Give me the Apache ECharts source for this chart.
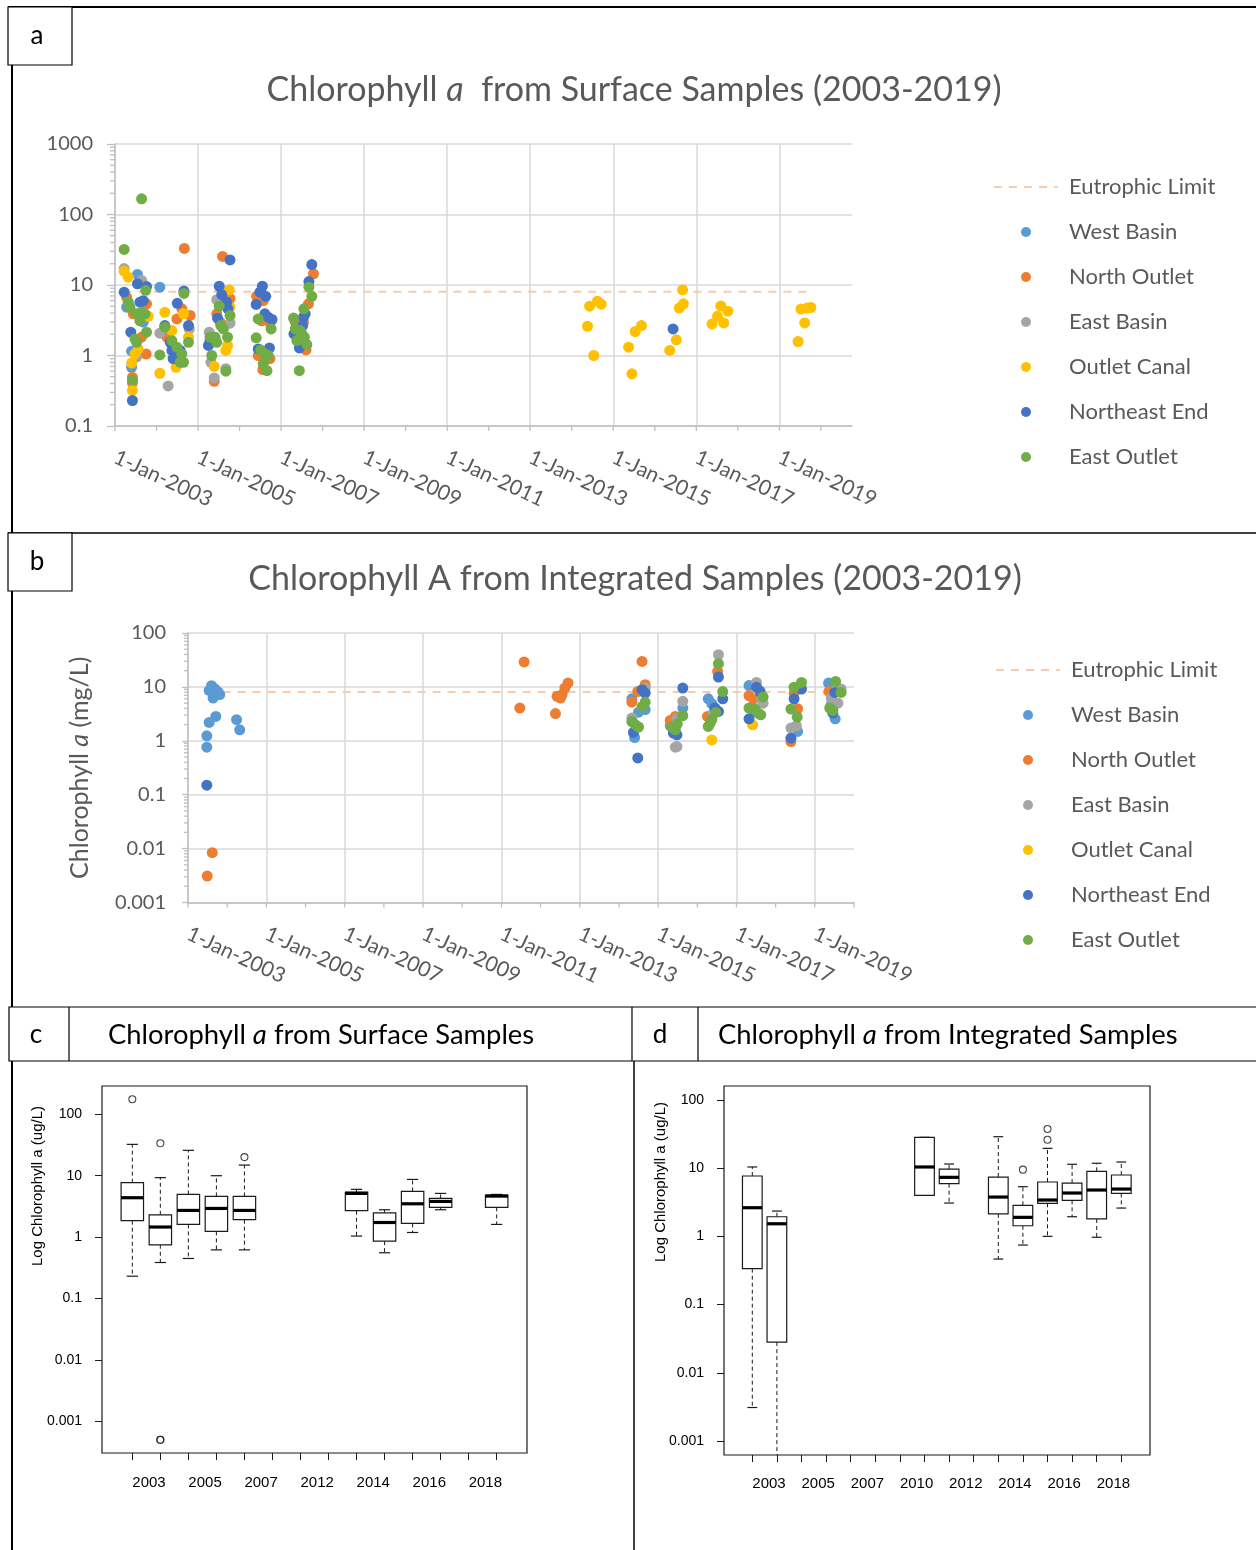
<!DOCTYPE html>
<html>
<head>
<meta charset="utf-8">
<title>Chlorophyll a – Surface and Integrated Samples</title>
<script src="https://cdn.jsdelivr.net/npm/echarts@6/dist/echarts.min.js"></script>
<style>
  html, body { margin: 0; padding: 0; background: #fff; }
  #chart { width: 1256px; height: 1550px; }
</style>
</head>
<body>
<div id="chart"></div>
<script>
// ---------------------------------------------------------------------------
// Sampling sites and their colours
// ---------------------------------------------------------------------------
const siteNames = ['West Basin', 'North Outlet', 'East Basin', 'Outlet Canal', 'Northeast End', 'East Outlet'];
const siteColors = ['#5B9BD5', '#ED7D31', '#A5A5A5', '#FFC000', '#4472C4', '#70AD47'];
const limitName = 'Eutrophic Limit';
const eutrophicLimit = 8;               // chlorophyll a threshold
const surfaceLimitSpan = [2003.2, 2019.8];
const integratedLimitSpan = [2003.5, 2019.7];

// ---------------------------------------------------------------------------
// Surface samples: [decimal year, chlorophyll a]
// ---------------------------------------------------------------------------
const surfaceWestBasin = [
  [2003.54, 14.1], [2003.28, 4.85], [2003.68, 2.97], [2003.40, 1.15], [2003.40, 0.68], [2004.08, 9.3]
];
const surfaceNorthOutlet = [
  [2003.28, 6.7], [2003.76, 5.4], [2003.44, 3.9], [2003.64, 1.82], [2003.75, 1.05], [2003.42, 0.41], [2003.42, 0.49],
  [2004.25, 1.82], [2004.61, 4.6], [2004.49, 3.3], [2004.81, 3.7], [2004.67, 33],
  [2005.59, 25.4], [2005.77, 6.4], [2005.45, 3.9], [2005.53, 2.97], [2005.39, 0.43],
  [2006.41, 6.9], [2006.57, 6.0], [2006.53, 3.1], [2006.73, 2.87], [2006.45, 1.0], [2006.73, 0.9], [2006.56, 0.63],
  [2007.78, 14.4], [2007.66, 5.4], [2007.34, 2.97], [2007.46, 2.97], [2007.54, 2.97], [2007.60, 1.2]
];
const surfaceEastBasin = [
  [2003.22, 17.1], [2003.64, 11.6], [2003.52, 0.95],
  [2004.08, 2.07], [2004.28, 0.37], [2004.79, 2.38],
  [2005.45, 6.2], [2005.77, 2.87], [2005.27, 2.14], [2005.31, 0.8], [2005.39, 0.48], [2005.67, 0.65]
];
const surfaceOutletCanal = [
  [2003.22, 15.7], [2003.32, 12.9], [2003.80, 3.6], [2003.56, 1.24], [2003.48, 1.05], [2003.40, 0.78], [2003.42, 0.32],
  [2004.20, 4.1], [2004.08, 0.56], [2004.47, 0.68], [2004.37, 2.26], [2004.65, 3.9], [2004.77, 1.82],
  [2005.75, 8.5], [2005.77, 4.85], [2005.39, 0.70], [2005.67, 1.18], [2005.71, 1.39],
  [2014.43, 5.0], [2014.62, 5.9], [2014.71, 5.35], [2014.38, 2.6], [2014.53, 1.0],
  [2015.37, 1.31], [2015.53, 2.19], [2015.68, 2.66], [2015.45, 0.55],
  [2016.36, 1.18], [2016.52, 1.67], [2016.59, 4.7], [2016.69, 5.4], [2016.67, 8.5],
  [2017.38, 2.8], [2017.51, 3.6], [2017.59, 5.05], [2017.66, 2.9], [2017.76, 4.25],
  [2019.45, 1.58], [2019.61, 2.9], [2019.52, 4.55], [2019.67, 4.7], [2019.76, 4.8]
];
const surfaceNortheastEnd = [
  [2003.22, 7.9], [2003.54, 10.4], [2003.76, 9.5], [2003.60, 5.7], [2003.68, 6.0], [2003.38, 2.14], [2003.42, 0.23],
  [2004.20, 2.66], [2004.33, 1.54], [2004.37, 1.18], [2004.40, 0.9], [2004.50, 5.5], [2004.66, 8.2], [2004.77, 2.66], [2004.57, 1.18],
  [2005.77, 22.7], [2005.51, 9.6], [2005.57, 7.3], [2005.69, 5.7], [2005.72, 4.6], [2005.47, 3.38], [2005.29, 1.63], [2005.25, 1.39],
  [2006.55, 9.6], [2006.49, 7.9], [2006.63, 6.9], [2006.40, 5.3], [2006.61, 3.9], [2006.69, 3.5], [2006.78, 3.24], [2006.45, 1.24], [2006.72, 1.28],
  [2007.74, 19.5], [2007.67, 11.2], [2007.58, 3.9], [2007.54, 3.5], [2007.31, 2.03], [2007.52, 2.66], [2007.44, 1.28],
  [2016.44, 2.38]
];
const surfaceEastOutlet = [
  [2003.64, 167], [2003.22, 31.9], [2003.74, 8.4], [2003.32, 5.7], [2003.36, 4.85], [2003.53, 3.9], [2003.64, 4.1], [2003.72, 3.9],
  [2003.60, 3.1], [2003.76, 2.14], [2003.48, 1.72], [2003.52, 1.54], [2003.42, 0.45],
  [2004.20, 2.52], [2004.08, 1.02], [2004.37, 1.63], [2004.49, 1.31], [2004.61, 1.05], [2004.57, 0.8], [2004.66, 7.6], [2004.77, 1.54], [2004.65, 0.8],
  [2005.51, 5.0], [2005.77, 3.7], [2005.55, 2.66], [2005.61, 2.38], [2005.71, 1.82], [2005.29, 1.82], [2005.41, 1.82], [2005.45, 1.54], [2005.33, 1.0], [2005.67, 0.6],
  [2006.45, 3.3], [2006.76, 2.38], [2006.40, 1.78], [2006.51, 1.2], [2006.61, 1.05], [2006.69, 1.0], [2006.57, 0.76], [2006.66, 0.61],
  [2007.67, 9.3], [2007.74, 6.9], [2007.55, 4.6], [2007.30, 3.4], [2007.34, 2.38], [2007.46, 2.26], [2007.50, 2.03], [2007.38, 1.63],
  [2007.56, 1.82], [2007.62, 1.43], [2007.44, 0.61]
];

// ---------------------------------------------------------------------------
// Integrated samples: [decimal year, chlorophyll a]
// ---------------------------------------------------------------------------
const integratedWestBasin = [
  [2003.60, 10.5], [2003.54, 8.6], [2003.69, 9.1], [2003.77, 8.0], [2003.81, 7.2], [2003.64, 6.2], [2003.71, 2.83], [2003.54, 2.19],
  [2003.48, 1.24], [2003.48, 0.76], [2004.24, 2.46], [2004.32, 1.6],
  [2014.33, 6.0], [2014.67, 3.8], [2014.50, 3.4], [2014.40, 1.15],
  [2015.63, 4.05], [2015.31, 1.9],
  [2016.28, 6.0], [2016.37, 4.9],
  [2017.32, 10.6], [2017.47, 3.5],
  [2018.56, 1.49],
  [2019.35, 11.8], [2019.42, 4.67], [2019.52, 2.56]
];
const integratedNorthOutlet = [
  [2003.62, 0.0084], [2003.49, 0.0031],
  [2011.58, 29], [2011.47, 4.05],
  [2012.38, 3.2], [2012.42, 6.7], [2012.51, 6.2], [2012.55, 7.2], [2012.62, 9.5], [2012.70, 11.8],
  [2014.59, 29.7], [2014.67, 11], [2014.48, 8.2], [2014.33, 5.2],
  [2015.44, 2.83], [2015.31, 2.38],
  [2016.52, 19.4], [2016.26, 2.83],
  [2017.32, 6.9], [2017.43, 5.95],
  [2018.47, 7.7], [2018.56, 3.93], [2018.39, 0.97],
  [2019.36, 8.25]
];
const integratedEastBasin = [
  [2014.67, 9.5], [2014.33, 2.64],
  [2015.63, 5.4], [2015.48, 2.56], [2015.44, 0.76], [2015.48, 0.78],
  [2016.54, 39.5], [2016.41, 3.27],
  [2017.51, 12.1], [2017.64, 5.8], [2017.68, 5.0],
  [2018.39, 1.72], [2018.53, 1.9],
  [2019.67, 9.1], [2019.42, 6.2], [2019.59, 5.0]
];
const integratedOutletCanal = [[2016.37, 1.04], [2017.41, 1.98]];
const integratedNortheastEnd = [
  [2003.48, 0.15],
  [2014.59, 8.9], [2014.67, 7.7], [2014.37, 1.43], [2014.48, 0.48],
  [2015.63, 9.5], [2015.39, 1.39], [2015.48, 1.29],
  [2016.54, 15.2], [2016.65, 6.0], [2016.45, 4.05], [2016.54, 3.5],
  [2017.51, 9.9], [2017.60, 8.3], [2017.32, 2.56],
  [2018.66, 9.1], [2018.47, 6.0], [2018.39, 1.12],
  [2019.51, 7.9], [2019.46, 3.27]
];
const integratedEastOutlet = [
  [2014.67, 5.2], [2014.59, 4.3], [2014.33, 2.28], [2014.42, 1.98], [2014.50, 1.8],
  [2015.63, 2.92], [2015.49, 2.07], [2015.35, 1.8], [2015.44, 1.6],
  [2016.54, 27], [2016.65, 8.2], [2016.47, 3.36], [2016.37, 2.46], [2016.33, 2.13], [2016.28, 1.85],
  [2017.68, 6.5], [2017.32, 4.05], [2017.47, 3.9], [2017.55, 3.27], [2017.62, 3.04],
  [2018.47, 9.9], [2018.66, 12.1], [2018.39, 3.88], [2018.55, 2.76],
  [2019.53, 12.6], [2019.67, 7.9], [2019.38, 4.05], [2019.46, 3.66]
];

// ---------------------------------------------------------------------------
// Box-plot summaries: [year, lower whisker, Q1, median, Q3, upper whisker]
// ---------------------------------------------------------------------------
const surfaceYears = ['2003', '2004', '2005', '2006', '2007', '2011', '2012', '2013', '2014', '2015', '2016', '2017', '2018', '2019'];
const surfaceBoxes = [
  ['2003', 0.231, 1.85, 4.38, 7.7, 32.4],
  ['2004', 0.386, 0.75, 1.46, 2.31, 9.3],
  ['2005', 0.449, 1.61, 2.72, 4.96, 25.9],
  ['2006', 0.62, 1.24, 2.93, 4.6, 10],
  ['2007', 0.62, 1.92, 2.72, 4.6, 14.9],
  ['2014', 1.04, 2.69, 5.15, 5.42, 6.0],
  ['2015', 0.556, 0.86, 1.73, 2.49, 2.79],
  ['2016', 1.19, 1.67, 3.49, 5.55, 8.7],
  ['2017', 2.79, 3.05, 3.81, 4.27, 5.15],
  ['2019', 1.61, 3.05, 4.66, 4.83, 4.96]
];
const surfaceOutliers = [['2003', 176], ['2004', 33.7], ['2004', 0.0005], ['2004', 0.0005], ['2007', 20.1]];

const integratedYears = ['2003', '2004', '2005', '2006', '2007', '2008', '2010', '2011', '2012', '2013', '2014', '2015', '2016', '2017', '2018', '2019'];
const integratedBoxes = [
  ['2003', 0.0031, 0.336, 2.63, 7.67, 10.4],
  ['2004', 0, 0.0282, 1.53, 1.94, 2.35],
  ['2011', 3.99, 3.99, 10.4, 28.3, 28.3],
  ['2012', 3.08, 5.92, 7.33, 9.7, 11.5],
  ['2014', 0.465, 2.13, 3.77, 7.41, 28.9],
  ['2015', 0.746, 1.43, 1.90, 2.85, 5.35],
  ['2016', 1.0, 3.05, 3.41, 6.26, 19.5],
  ['2017', 1.94, 3.37, 4.32, 6.05, 11.4],
  ['2018', 0.97, 1.80, 4.78, 8.97, 11.8],
  ['2019', 2.60, 4.27, 4.94, 7.93, 12.3]
];
const integratedOutliers = [['2015', 9.5], ['2016', 26.1], ['2016', 37.5]];

// Axis tick values
const logTickValues = [0.001, 0.01, 0.1, 1, 10, 100];
const sampleYears = [2003, 2004, 2005, 2006, 2007, 2008, 2009, 2010, 2011, 2012, 2013, 2014, 2015, 2016, 2017, 2018, 2019, 2020];

// ---------------------------------------------------------------------------
// Styling helpers
// ---------------------------------------------------------------------------
const FONT = 'Lato, "Noto Sans", sans-serif';
const R_FONT = '"Liberation Sans", Arial, sans-serif';
const GREY_TEXT = '#595959';
const AXIS_GREY = '#BFBFBF';
const GRID_GREY = '#D9D9D9';

const surfaceSets = [surfaceWestBasin, surfaceNorthOutlet, surfaceEastBasin, surfaceOutletCanal, surfaceNortheastEnd, surfaceEastOutlet];
const integratedSets = [integratedWestBasin, integratedNorthOutlet, integratedEastBasin, integratedOutletCanal, integratedNortheastEnd, integratedEastOutlet];

function minorLogValues(fromExp, toExp) {
  const out = [];
  for (let e = fromExp; e < toExp; e++) {
    for (let m = 2; m <= 9; m++) out.push(+(m * Math.pow(10, e)).toPrecision(6));
  }
  return out;
}

function scatterSeries(sets, axis) {
  return siteNames.map((name, i) => ({
    name, type: 'scatter', xAxisIndex: axis, yAxisIndex: axis,
    symbol: 'circle', symbolSize: 11, silent: true, z: 3,
    itemStyle: { color: siteColors[i], opacity: 1 },
    data: sets[i]
  }));
}

function limitSeries(span, axis) {
  return {
    name: limitName, type: 'line', xAxisIndex: axis, yAxisIndex: axis,
    symbol: 'none', silent: true, z: 2,
    itemStyle: { color: '#F8CBAD' },
    lineStyle: { color: '#F8CBAD', width: 2, type: [8, 7] },
    data: span.map(x => [x, eutrophicLimit])
  };
}

// short tick marks placed through the axis scales
function tickSeries(axis, points, dx, dy, color) {
  return {
    type: 'custom', xAxisIndex: axis, yAxisIndex: axis, silent: true, clip: false, z: 1,
    data: points,
    renderItem: (params, api) => {
      const p = api.coord([api.value(0), api.value(1)]);
      return {
        type: 'line',
        shape: { x1: p[0], y1: p[1], x2: p[0] + dx, y2: p[1] + dy },
        style: { stroke: color, lineWidth: 1.3 }
      };
    }
  };
}

// Tukey-style box with dashed whiskers, staples and a heavy median bar
function renderBox(params, api) {
  const cat = api.value(0);
  const vals = [1, 2, 3, 4, 5].map(d => api.value(d));
  const cs = params.coordSys;
  const top = cs.y, bottom = cs.y + cs.height;
  const band = api.size([1, 0])[0];
  const half = band * 0.4;
  const cap = band * 0.2;
  const py = v => (v > 0 ? Math.max(top, Math.min(bottom, api.coord([cat, v])[1])) : bottom);
  const x = api.coord([cat, vals[2]])[0];
  const [yLo, yQ1, yMed, yQ3, yHi] = vals.map(py);
  const ink = '#1A1A1A';
  const dash = { stroke: ink, lineWidth: 1, lineDash: [4, 3] };
  const solid = { stroke: ink, lineWidth: 1.2 };
  const children = [
    { type: 'line', shape: { x1: x, y1: yQ3, x2: x, y2: yHi }, style: dash },
    { type: 'line', shape: { x1: x, y1: yQ1, x2: x, y2: yLo }, style: dash },
    { type: 'line', shape: { x1: x - cap, y1: yHi, x2: x + cap, y2: yHi }, style: solid }
  ];
  if (vals[0] > 0 && yLo < bottom) {
    children.push({ type: 'line', shape: { x1: x - cap, y1: yLo, x2: x + cap, y2: yLo }, style: solid });
  }
  children.push(
    { type: 'rect', shape: { x: x - half, y: yQ3, width: 2 * half, height: yQ1 - yQ3 }, style: { fill: '#fff', stroke: ink, lineWidth: 1.2 } },
    { type: 'line', shape: { x1: x - half, y1: yMed, x2: x + half, y2: yMed }, style: { stroke: '#000', lineWidth: 3.2 } }
  );
  return { type: 'group', children };
}

function boxSeries(axis, rows) {
  return {
    type: 'custom', xAxisIndex: axis, yAxisIndex: axis, silent: true, clip: false, z: 3,
    encode: { x: 0, y: [1, 2, 3, 4, 5] },
    data: rows,
    renderItem: renderBox
  };
}

function outlierSeries(axis, rows) {
  return {
    type: 'scatter', xAxisIndex: axis, yAxisIndex: axis, silent: true, z: 4,
    symbol: 'circle', symbolSize: 7,
    itemStyle: { color: 'rgba(0,0,0,0)', borderColor: '#1A1A1A', borderWidth: 1.1 },
    data: rows
  };
}

const fmtNum = v => String(+(+v).toPrecision(6));

function dateAxis(grid, max) {
  return {
    type: 'value', gridIndex: grid, min: 2003, max, interval: 2,
    axisLine: { show: true, lineStyle: { color: AXIS_GREY, width: 1.5 } },
    axisTick: { show: false },
    splitLine: { show: true, showMaxLine: false, lineStyle: { color: GRID_GREY, width: 1.5 } },
    axisLabel: {
      rotate: -25, margin: 30, fontSize: 21, color: GREY_TEXT, fontFamily: FONT,
      showMaxLabel: false, hideOverlap: false,
      formatter: v => (Number.isInteger(v) && (v - 2003) % 2 === 0 ? '1-Jan-' + v : '')
    }
  };
}

function scatterLogAxis(grid, min, max, tickLen) {
  return {
    type: 'log', logBase: 10, gridIndex: grid, min, max,
    axisLine: { show: true, lineStyle: { color: AXIS_GREY, width: 1.5 } },
    axisTick: { show: true, length: tickLen, lineStyle: { color: AXIS_GREY, width: 1.3 } },
    splitLine: { show: true, lineStyle: { color: GRID_GREY, width: 1.5 } },
    axisLabel: { margin: 22, fontSize: 20, color: GREY_TEXT, fontFamily: FONT, formatter: fmtNum }
  };
}

function boxCategoryAxis(grid, years, margin) {
  return {
    type: 'category', gridIndex: grid, data: years, boundaryGap: true,
    axisLine: { show: false },
    axisTick: { show: true, alignWithLabel: true, interval: 0, length: 7, lineStyle: { color: '#1A1A1A', width: 1 } },
    axisLabel: { interval: 1, align: 'left', margin, fontSize: 15, color: '#000', fontFamily: R_FONT },
    splitLine: { show: false }
  };
}

function boxLogAxis(grid, min, max, offset) {
  return {
    type: 'log', logBase: 10, gridIndex: grid, min, max, offset,
    axisLine: { show: false },
    axisTick: { show: true, customValues: logTickValues, length: 7, lineStyle: { color: '#1A1A1A', width: 1 } },
    axisLabel: { customValues: logTickValues, margin: 20, fontSize: 14, color: '#000', fontFamily: R_FONT, formatter: fmtNum },
    splitLine: { show: false }
  };
}

// the limit entry keeps only its dashed line in the legend
const legendNames = [{ name: limitName, itemStyle: { opacity: 0, borderWidth: 0 } }].concat(siteNames);
function legendAt(left, top) {
  return {
    left, top, orient: 'vertical', padding: 0, selectedMode: false,
    itemWidth: 64, itemHeight: 10, itemGap: 23,
    textStyle: { color: GREY_TEXT, fontSize: 22, fontFamily: FONT, lineHeight: 22, padding: [0, 0, 0, 6] },
    data: legendNames
  };
}

// decorative frame, panel letters and headings
const INK = '#000';
function hLine(x1, x2, y, w) { return { type: 'line', silent: true, shape: { x1, y1: y, x2, y2: y }, style: { stroke: INK, lineWidth: w } }; }
function vLine(x, y1, y2, w) { return { type: 'line', silent: true, shape: { x1: x, y1, x2: x, y2 }, style: { stroke: INK, lineWidth: w } }; }
function letter(x, y, text) {
  return { type: 'text', silent: true, x, y, style: { text, fontSize: 26, fontFamily: FONT, fill: INK, align: 'center', verticalAlign: 'middle' } };
}
function letterBox(x, y, w, h, text) {
  return [
    { type: 'rect', silent: true, shape: { x, y, width: w, height: h }, style: { fill: '#fff', stroke: INK, lineWidth: 1.2 } },
    letter(x + w / 2 - 3, y + h / 2, text)
  ];
}
function richTitle(x, y, text, size, color, align) {
  return {
    type: 'text', silent: true, x, y,
    style: {
      text, fontSize: size, fontFamily: FONT, fill: color, align, verticalAlign: 'middle',
      rich: { i: { fontStyle: 'italic', fontSize: size, fontFamily: FONT, fill: color } }
    }
  };
}
function boxFrame(x, y, w, h) {
  return { type: 'rect', silent: true, z: 10, shape: { x, y, width: w, height: h }, style: { fill: 'none', stroke: '#1A1A1A', lineWidth: 1.2 } };
}
function rotatedLabel(x, y, text) {
  return {
    type: 'text', silent: true, x, y, rotation: Math.PI / 2,
    style: { text, fontSize: 15, fontFamily: R_FONT, fill: '#000', align: 'center', verticalAlign: 'middle' }
  };
}

const graphics = [
  hLine(8, 1256, 7, 2),
  vLine(12, 7, 1550, 2),
  hLine(8, 1256, 533, 1.5),
  vLine(634, 1061, 1550, 1.5),
  ...letterBox(8, 7, 64, 58, 'a'),
  ...letterBox(8, 533, 64, 58, 'b'),
  { type: 'rect', silent: true, shape: { x: 9, y: 1007, width: 1260, height: 54 }, style: { fill: '#fff', stroke: INK, lineWidth: 1.2 } },
  vLine(69, 1007, 1061, 1.2),
  vLine(632, 1007, 1061, 1.2),
  vLine(698, 1007, 1061, 1.2),
  letter(36, 1035, 'c'),
  letter(660, 1035, 'd'),
  richTitle(108, 1035, 'Chlorophyll {i|a} from Surface Samples', 27.4, INK, 'left'),
  richTitle(718, 1035, 'Chlorophyll {i|a} from Integrated Samples', 27.4, INK, 'left'),
  richTitle(634, 90, 'Chlorophyll {i|a}  from Surface Samples (2003-2019)', 34, GREY_TEXT, 'center'),
  richTitle(635, 579, 'Chlorophyll A from Integrated Samples (2003-2019)', 34, GREY_TEXT, 'center'),
  boxFrame(102, 1086, 425, 367),
  boxFrame(724, 1086, 426, 369),
  rotatedLabel(38, 1186, 'Log Chlorophyll a (ug/L)'),
  rotatedLabel(661, 1182, 'Log Chlorophyll a (ug/L)')
];

// ---------------------------------------------------------------------------
// Chart
// ---------------------------------------------------------------------------
const chart = echarts.init(document.getElementById('chart'), null, { renderer: 'canvas', width: 1256, height: 1550 });

const option = {
  backgroundColor: '#fff',
  animation: false,
  grid: [
    { left: 115, top: 144, width: 737, height: 282, outerBoundsMode: 'none', containLabel: false },
    { left: 188, top: 633, width: 666, height: 269.5, outerBoundsMode: 'none', containLabel: false },
    { left: 118.3, top: 1086, width: 392.4, height: 367, outerBoundsMode: 'none', containLabel: false },
    { left: 740, top: 1086, width: 393.6, height: 369, outerBoundsMode: 'none', containLabel: false }
  ],
  xAxis: [
    dateAxis(0, 2020.75),
    dateAxis(1, 2020),
    boxCategoryAxis(2, surfaceYears, 22),
    boxCategoryAxis(3, integratedYears, 21)
  ],
  yAxis: [
    scatterLogAxis(0, 0.1, 1000, 8),
    Object.assign(scatterLogAxis(1, 0.001, 100, 6), {
      name: 'Chlorophyll {i|a} (mg/L)',
      nameLocation: 'middle', nameGap: 96, nameRotate: 90,
      nameTextStyle: {
        fontSize: 25, color: GREY_TEXT, fontFamily: FONT,
        rich: { i: { fontStyle: 'italic', fontSize: 25, color: GREY_TEXT, fontFamily: FONT } }
      }
    }),
    boxLogAxis(2, 0.000305, 289, 16.3),
    boxLogAxis(3, 0.000624, 160, 16)
  ],
  legend: [legendAt(993, 176), legendAt(995, 659)],
  graphic: graphics,
  series: [
    tickSeries(0, sampleYears.map(y => [y, 0.1]), 0, 5, AXIS_GREY),
    tickSeries(0, minorLogValues(-1, 3).map(v => [2003, v]), -5, 0, AXIS_GREY),
    tickSeries(1, sampleYears.map(y => [y, 0.001]), 0, 5, AXIS_GREY),
    tickSeries(1, minorLogValues(-3, 2).map(v => [2003, v]), -4, 0, AXIS_GREY),
    limitSeries(surfaceLimitSpan, 0),
    ...scatterSeries(surfaceSets, 0),
    limitSeries(integratedLimitSpan, 1),
    ...scatterSeries(integratedSets, 1),
    boxSeries(2, surfaceBoxes),
    outlierSeries(2, surfaceOutliers),
    boxSeries(3, integratedBoxes),
    outlierSeries(3, integratedOutliers)
  ]
};

chart.setOption(option);
</script>
</body>
</html>
